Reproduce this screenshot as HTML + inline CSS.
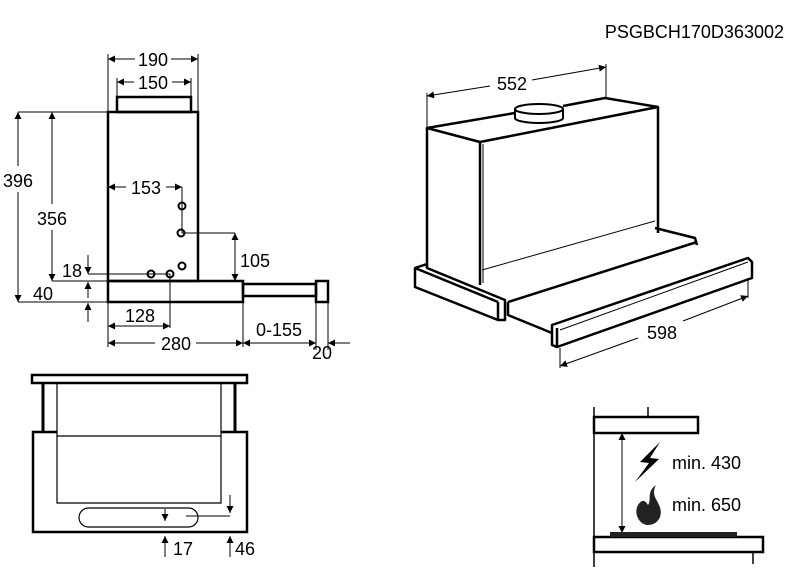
<!DOCTYPE html>
<html><head><meta charset="utf-8"><style>
html,body{margin:0;padding:0;background:#fff;}
svg{display:block;}
text{font-family:"Liberation Sans",Arial,sans-serif;font-size:18px;fill:#000;}
</style></head><body>
<svg width="786" height="587" viewBox="0 0 786 587" xmlns="http://www.w3.org/2000/svg">
<defs>
<marker id="a" viewBox="0 0 10 10" refX="10" refY="5" markerWidth="9" markerHeight="7" orient="auto-start-reverse" markerUnits="userSpaceOnUse"><path d="M0,0 L10,5 L0,10 z" fill="#000"/></marker>
</defs>
<text x="784" y="38" text-anchor="end">PSGBCH170D363002</text>

<!-- SIDE VIEW -->
<g fill="none" stroke="#000">
<rect x="108" y="112" width="90" height="169" stroke-width="2.5"/>
<rect x="117" y="97" width="74" height="15" stroke-width="2.5"/>
<rect x="108" y="281" width="135" height="21" stroke-width="2.5"/>
<rect x="243" y="284" width="73" height="12" stroke-width="2.5"/>
<rect x="316" y="281" width="12" height="21" stroke-width="2.5"/>
<g stroke-width="1">
<line x1="108" y1="54" x2="108" y2="112"/><line x1="198" y1="54" x2="198" y2="112"/>
<line x1="117" y1="78" x2="117" y2="97"/><line x1="191" y1="78" x2="191" y2="97"/>
<line x1="108" y1="59" x2="135" y2="59" marker-start="url(#a)"/><line x1="171" y1="59" x2="198" y2="59" marker-end="url(#a)"/>
<line x1="117" y1="82" x2="134" y2="82" marker-start="url(#a)"/><line x1="172" y1="82" x2="191" y2="82" marker-end="url(#a)"/>
<line x1="18" y1="112" x2="108" y2="112"/><line x1="18" y1="302" x2="108" y2="302"/><line x1="52" y1="281" x2="108" y2="281"/>
<line x1="18" y1="112" x2="18" y2="166" marker-start="url(#a)"/><line x1="18" y1="192" x2="18" y2="302" marker-end="url(#a)"/>
<line x1="52" y1="112" x2="52" y2="204" marker-start="url(#a)"/><line x1="52" y1="230" x2="52" y2="281" marker-end="url(#a)"/>
<line x1="88" y1="255" x2="88" y2="274" marker-end="url(#a)"/>
<line x1="88" y1="274" x2="170" y2="274"/>
<line x1="88" y1="298" x2="88" y2="282" marker-end="url(#a)"/>
<line x1="88" y1="322" x2="88" y2="303" marker-end="url(#a)"/>
<line x1="108" y1="187" x2="126" y2="187" marker-start="url(#a)"/><line x1="166" y1="187" x2="182" y2="187" marker-end="url(#a)"/>
<line x1="182" y1="187" x2="182" y2="233"/>
<line x1="182" y1="233" x2="235" y2="233"/>
<line x1="235" y1="233" x2="235" y2="281" marker-start="url(#a)" marker-end="url(#a)"/>
<line x1="170" y1="274" x2="170" y2="328"/>
<line x1="108" y1="302" x2="108" y2="347"/><line x1="243" y1="296" x2="243" y2="347"/>
<line x1="316" y1="302" x2="316" y2="350"/><line x1="328" y1="302" x2="328" y2="350"/>
<line x1="108" y1="326" x2="170" y2="326" marker-start="url(#a)" marker-end="url(#a)"/>
<line x1="108" y1="343" x2="155" y2="343" marker-start="url(#a)"/><line x1="196" y1="343" x2="243" y2="343" marker-end="url(#a)"/>
<line x1="243" y1="343" x2="316" y2="343" marker-start="url(#a)" marker-end="url(#a)"/>
<line x1="350" y1="343" x2="328" y2="343" marker-end="url(#a)"/>
</g>
<g stroke-width="2"><circle cx="151" cy="274" r="3.5"/><circle cx="170" cy="274" r="3.5"/><circle cx="182" cy="266" r="3.5"/><circle cx="181" cy="233" r="3.5"/><circle cx="182" cy="206" r="3.5"/></g>
</g>
<text x="153" y="66" text-anchor="middle">190</text>
<text x="153" y="89" text-anchor="middle">150</text>
<text x="18" y="187" text-anchor="middle">396</text>
<text x="52" y="225" text-anchor="middle">356</text>
<text x="146" y="194" text-anchor="middle">153</text>
<text x="255" y="267" text-anchor="middle">105</text>
<text x="72" y="277" text-anchor="middle">18</text>
<text x="43" y="300" text-anchor="middle">40</text>
<text x="140" y="322" text-anchor="middle">128</text>
<text x="176" y="350" text-anchor="middle">280</text>
<text x="279" y="336" text-anchor="middle">0-155</text>
<text x="322" y="359" text-anchor="middle">20</text>

<!-- ISO VIEW -->
<g fill="none" stroke="#000" stroke-linejoin="round">
<g stroke-width="1">
<line x1="427" y1="93" x2="427" y2="128"/><line x1="606" y1="64" x2="606" y2="98"/>
<line x1="427" y1="96" x2="490" y2="86" marker-start="url(#a)"/><line x1="532" y1="80" x2="606" y2="67" marker-end="url(#a)"/>
<line x1="560" y1="348" x2="560" y2="368"/><line x1="748" y1="278" x2="748" y2="298"/>
<line x1="560" y1="366" x2="638" y2="338" marker-start="url(#a)"/><line x1="683" y1="321" x2="748" y2="296" marker-end="url(#a)"/>
<line x1="483" y1="144" x2="483" y2="283"/>
<line x1="482" y1="270" x2="655" y2="221"/>
<line x1="560" y1="330" x2="748" y2="262"/>
</g>
<g stroke-width="2.5">
<polyline points="427,268 427,128 480,142 658,107 605,98 563,106"/>
<line x1="515" y1="113" x2="427" y2="128"/>
<line x1="480" y1="142" x2="480" y2="285"/>
<line x1="658" y1="107" x2="658" y2="233"/>
<polygon points="415,268 427,264 427,268 505,300 505,320 498,320 415,287"/>
<line x1="415" y1="268" x2="498" y2="302"/><line x1="498" y1="302" x2="498" y2="320"/>
<polyline points="655,228 695,238 697,245"/>
<polyline points="508,302 697,242"/>
<polyline points="508,302 508,315 552,333"/>
<polygon points="552,325 748,258 752,262 752,278 557,347 552,345"/>
<line x1="557" y1="328" x2="557" y2="347"/>
</g>
<g stroke-width="2">
<path d="M515,109 L515,118 A24,5 0 0 0 563,118 L563,109" fill="#fff"/>
<ellipse cx="539" cy="109" rx="24" ry="5" fill="#fff"/>
</g>
</g>
<text x="512" y="90" text-anchor="middle">552</text>
<text x="662" y="339" text-anchor="middle">598</text>

<!-- FRONT VIEW -->
<g fill="none" stroke="#000">
<rect x="32" y="375" width="215" height="8" stroke-width="2.5"/>
<line x1="43" y1="383" x2="43" y2="432" stroke-width="3"/>
<line x1="235" y1="383" x2="235" y2="432" stroke-width="3"/>
<polyline points="57,383 57,503 221,503 221,383" stroke-width="1.2"/>
<line x1="57" y1="436" x2="221" y2="436" stroke-width="1.2"/>
<polyline points="57,432 33,432 33,532 247,532 247,432 221,432" stroke-width="2.5"/>
<rect x="79" y="508" width="119" height="19" rx="9.5" stroke-width="1.2"/>
<g stroke-width="1">
<line x1="230" y1="495" x2="230" y2="513" marker-end="url(#a)"/>
<line x1="186" y1="516" x2="230" y2="516"/>
<line x1="165" y1="509" x2="165" y2="521" marker-end="url(#a)"/>
<line x1="165" y1="557" x2="165" y2="536" marker-end="url(#a)"/>
<line x1="230" y1="557" x2="230" y2="536" marker-end="url(#a)"/>
</g>
</g>
<text x="173" y="555">17</text>
<text x="235" y="555">46</text>

<!-- CLEARANCE -->
<g fill="none" stroke="#000">
<line x1="594" y1="407" x2="594" y2="567" stroke-width="1.5"/>
<line x1="648" y1="407" x2="648" y2="417" stroke-width="1.5"/>
<rect x="594" y="417" width="104" height="16" stroke-width="2.5"/>
<line x1="622" y1="433" x2="622" y2="533" stroke-width="1" marker-start="url(#a)" marker-end="url(#a)"/>
<rect x="594" y="537" width="169" height="15" stroke-width="2.5"/>
<line x1="753" y1="552" x2="753" y2="564" stroke-width="1.5"/>
</g>
<rect x="610" y="532" width="127" height="5" fill="#222"/>
<path d="M660,442 L640,462 L649,463 L635,482 L659,459 L650,458 Z" fill="#000"/>
<path d="M656,485 C646,492 652,500 648,505 C645,500 642,499 638,505 C633,514 640,525 648,525 C658,525 664,515 659,505 C657,499 651,495 656,485 Z" fill="#222"/>
<text x="672" y="469">min. 430</text>
<text x="672" y="511">min. 650</text>
</svg>
</body></html>
